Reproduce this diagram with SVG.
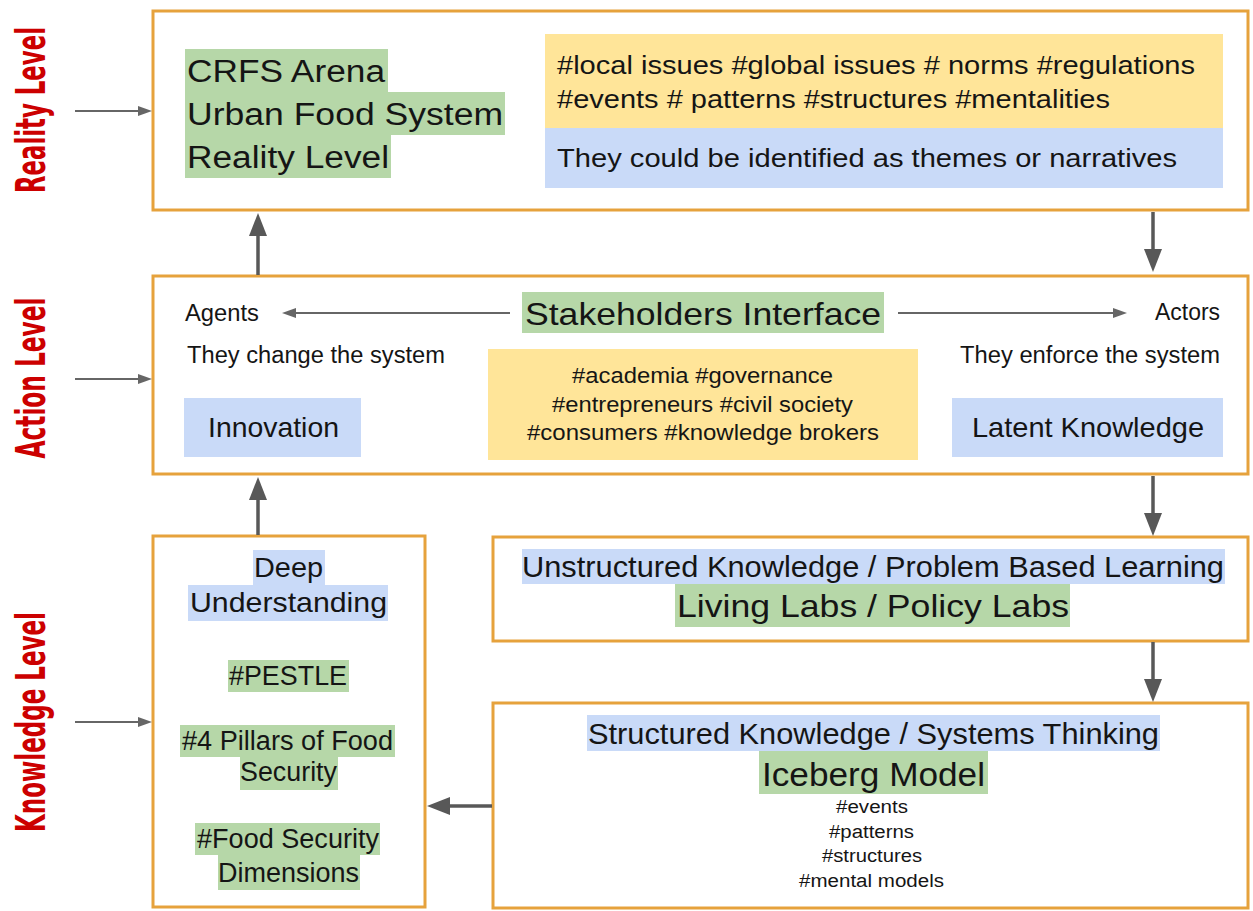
<svg xmlns="http://www.w3.org/2000/svg" width="1253" height="911" viewBox="0 0 1253 911">
<style>
.box{fill:#fff;stroke:#E6A23C;stroke-width:3}
.g{fill:#b6d7a8}
.y{fill:#ffe599}
.b{fill:#c9daf8}
.t{font-family:"Liberation Sans",Arial,sans-serif;fill:#151515}
.lvl{font-family:"Liberation Sans Narrow","DejaVu Sans Condensed","Liberation Sans",sans-serif;font-weight:bold;fill:#cc0000;font-size:40px}
.thick{stroke:#585858;stroke-width:3.5;fill:none}
.thin{stroke:#666;stroke-width:2;fill:none}
</style>
<defs>
<marker id="ah" viewBox="0 0 23 18" markerWidth="23" markerHeight="18" refX="11" refY="9" orient="auto" markerUnits="userSpaceOnUse">
<path d="M0,0 L23,9 L0,18 z" fill="#585858"/>
</marker>
<marker id="as" viewBox="0 0 14 10" markerWidth="14" markerHeight="10" refX="7" refY="5" orient="auto" markerUnits="userSpaceOnUse">
<path d="M0,0 L14,5 L0,10 z" fill="#666"/>
</marker>
</defs>

<g id="labels">
<text class="lvl" transform="translate(45,110) rotate(-90)" text-anchor="middle" textLength="166" lengthAdjust="spacingAndGlyphs">Reality Level</text>
<text class="lvl" transform="translate(45,378) rotate(-90)" text-anchor="middle" textLength="161" lengthAdjust="spacingAndGlyphs">Action Level</text>
<text class="lvl" transform="translate(45,722) rotate(-90)" text-anchor="middle" textLength="220" lengthAdjust="spacingAndGlyphs">Knowledge Level</text>
</g>

<g id="reality">
<rect class="box" x="153" y="11" width="1095" height="199"/>
<rect class="g" x="185" y="49" width="203" height="43"/>
<rect class="g" x="185" y="92" width="320" height="43"/>
<rect class="g" x="185" y="135" width="206" height="43"/>
<text class="t" x="187" y="82" font-size="31" textLength="198" lengthAdjust="spacingAndGlyphs">CRFS Arena</text>
<text class="t" x="187" y="125" font-size="31" textLength="316" lengthAdjust="spacingAndGlyphs">Urban Food System</text>
<text class="t" x="187" y="168" font-size="31" textLength="202" lengthAdjust="spacingAndGlyphs">Reality Level</text>
<rect class="y" x="545" y="34" width="678" height="94"/>
<rect class="b" x="545" y="128" width="678" height="60"/>
<text class="t" x="557" y="74" font-size="26" textLength="638" lengthAdjust="spacingAndGlyphs">#local issues #global issues # norms #regulations</text>
<text class="t" x="557" y="108" font-size="26" textLength="553" lengthAdjust="spacingAndGlyphs">#events # patterns #structures #mentalities</text>
<text class="t" x="557" y="167" font-size="26" textLength="620" lengthAdjust="spacingAndGlyphs">They could be identified as themes or narratives</text>
</g>

<g id="action">
<rect class="box" x="153" y="276" width="1095" height="198"/>
<text class="t" x="185" y="321" font-size="23" textLength="74" lengthAdjust="spacingAndGlyphs">Agents</text>
<text class="t" x="187" y="363" font-size="23" textLength="258" lengthAdjust="spacingAndGlyphs">They change the system</text>
<rect class="g" x="522" y="292" width="362" height="41"/>
<text class="t" x="525" y="325" font-size="32" textLength="356" lengthAdjust="spacingAndGlyphs">Stakeholders Interface</text>
<text class="t" x="1155" y="320" font-size="23" textLength="65" lengthAdjust="spacingAndGlyphs">Actors</text>
<text class="t" x="960" y="363" font-size="23" textLength="260" lengthAdjust="spacingAndGlyphs">They enforce the system</text>
<rect class="y" x="488" y="349" width="430" height="111"/>
<text class="t" x="572" y="383" font-size="22" textLength="261" lengthAdjust="spacingAndGlyphs">#academia #governance</text>
<text class="t" x="552" y="412" font-size="22" textLength="301" lengthAdjust="spacingAndGlyphs">#entrepreneurs #civil society</text>
<text class="t" x="527" y="440" font-size="22" textLength="352" lengthAdjust="spacingAndGlyphs">#consumers #knowledge brokers</text>
<rect class="b" x="184" y="398" width="177" height="59"/>
<text class="t" x="208" y="437" font-size="28" textLength="131" lengthAdjust="spacingAndGlyphs">Innovation</text>
<rect class="b" x="952" y="398" width="271" height="59"/>
<text class="t" x="972" y="437" font-size="28" textLength="232" lengthAdjust="spacingAndGlyphs">Latent Knowledge</text>
</g>

<g id="deep-understanding">
<rect class="box" x="153" y="536" width="272" height="371"/>
<rect class="b" x="253" y="550" width="72" height="35"/>
<rect class="b" x="188" y="585" width="200" height="36"/>
<text class="t" x="254" y="577" font-size="28" textLength="69" lengthAdjust="spacingAndGlyphs">Deep</text>
<text class="t" x="190" y="612" font-size="28" textLength="197" lengthAdjust="spacingAndGlyphs">Understanding</text>
<rect class="g" x="228" y="660" width="121" height="32"/>
<text class="t" x="229" y="685" font-size="27" textLength="118" lengthAdjust="spacingAndGlyphs">#PESTLE</text>
<rect class="g" x="180" y="725" width="215" height="32"/>
<rect class="g" x="240" y="757" width="98" height="33"/>
<text class="t" x="182" y="750" font-size="27" textLength="211" lengthAdjust="spacingAndGlyphs">#4 Pillars of Food</text>
<text class="t" x="240" y="781" font-size="27" textLength="97" lengthAdjust="spacingAndGlyphs">Security</text>
<rect class="g" x="195" y="823" width="185" height="32"/>
<rect class="g" x="218" y="855" width="142" height="35"/>
<text class="t" x="197" y="848" font-size="27" textLength="182" lengthAdjust="spacingAndGlyphs">#Food Security</text>
<text class="t" x="218" y="882" font-size="27" textLength="141" lengthAdjust="spacingAndGlyphs">Dimensions</text>
</g>

<g id="unstructured">
<rect class="box" x="493" y="537" width="755" height="104"/>
<rect class="b" x="522" y="549" width="703" height="35"/>
<rect class="g" x="675" y="584" width="395" height="43"/>
<text class="t" x="522" y="577" font-size="30" textLength="702" lengthAdjust="spacingAndGlyphs">Unstructured Knowledge / Problem Based Learning</text>
<text class="t" x="677" y="617" font-size="32" textLength="392" lengthAdjust="spacingAndGlyphs">Living Labs / Policy Labs</text>
</g>

<g id="structured">
<rect class="box" x="493" y="703" width="755" height="205"/>
<rect class="b" x="587" y="715" width="573" height="36"/>
<rect class="g" x="759" y="751" width="229" height="43"/>
<text class="t" x="588" y="744" font-size="30" textLength="571" lengthAdjust="spacingAndGlyphs">Structured Knowledge / Systems Thinking</text>
<text class="t" x="762" y="786" font-size="33" textLength="223" lengthAdjust="spacingAndGlyphs">Iceberg Model</text>
<text class="t" x="836" y="813" font-size="18" textLength="72" lengthAdjust="spacingAndGlyphs">#events</text>
<text class="t" x="829" y="838" font-size="18" textLength="85" lengthAdjust="spacingAndGlyphs">#patterns</text>
<text class="t" x="822" y="862" font-size="18" textLength="100" lengthAdjust="spacingAndGlyphs">#structures</text>
<text class="t" x="799" y="887" font-size="18" textLength="145" lengthAdjust="spacingAndGlyphs">#mental models</text>
</g>

<g id="connectors">
<line class="thick" x1="258" y1="275" x2="258" y2="225" marker-end="url(#ah)"/>
<line class="thick" x1="1153" y1="212" x2="1153" y2="260" marker-end="url(#ah)"/>
<line class="thick" x1="258" y1="535" x2="258" y2="489" marker-end="url(#ah)"/>
<line class="thick" x1="1153" y1="476" x2="1153" y2="524" marker-end="url(#ah)"/>
<line class="thick" x1="1153" y1="642" x2="1153" y2="690" marker-end="url(#ah)"/>
<line class="thick" x1="492" y1="806" x2="439" y2="806" marker-end="url(#ah)"/>
<line class="thin" x1="75" y1="111" x2="145" y2="111" marker-end="url(#as)"/>
<line class="thin" x1="75" y1="379" x2="145" y2="379" marker-end="url(#as)"/>
<line class="thin" x1="75" y1="722" x2="145" y2="722" marker-end="url(#as)"/>
<line class="thin" x1="510" y1="313" x2="289" y2="313" marker-end="url(#as)"/>
<line class="thin" x1="898" y1="313" x2="1120" y2="313" marker-end="url(#as)"/>
</g>
</svg>
